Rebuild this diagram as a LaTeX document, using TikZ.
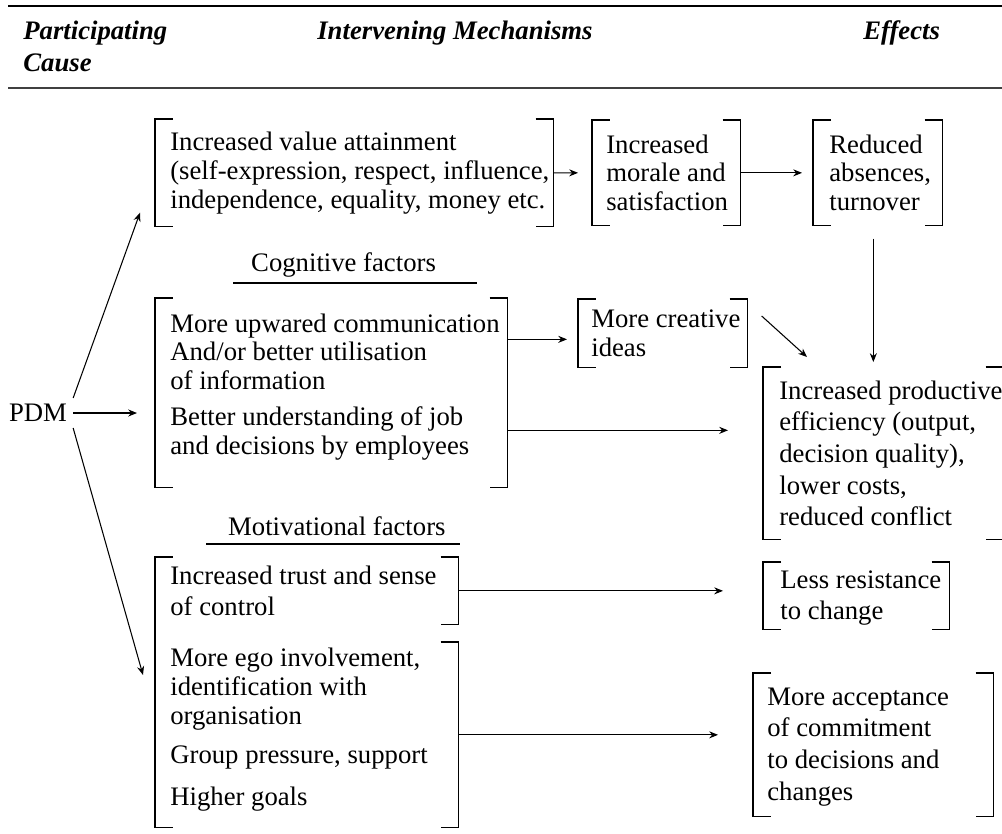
\documentclass[tikz,border=0pt]{standalone}
\usepackage{fontspec}
\setmainfont{Liberation Serif}
\usetikzlibrary{arrows.meta}
\usetikzlibrary{positioning}
\usetikzlibrary{calc}

\tikzset{
  body/.style={font=\fontsize{15.2}{16.4}\selectfont},
  head/.style={font=\fontsize{15.2}{18}\selectfont\bfseries\itshape, anchor=base west, inner sep=0pt},
  frame/.style={anchor=north west, inner sep=0pt},
  txt/.style={font=\fontsize{15.2}{#1}\selectfont, align=left, inner sep=0pt},
  txt/.default=16.4pt,
  brk/.style={line width=0.6pt},
  arr/.style={line width=0.6pt, -{Stealth[length=5pt,width=4pt]}},
}

% square brackets round a frame
\newcommand{\leftbrk}[2]{\draw[brk] ([xshift=0.36cm]#1.north west) -- (#1.north west) -- (#2.south west) -- ([xshift=0.36cm]#2.south west);}
\newcommand{\rightbrk}[1]{\draw[brk] ([xshift=-0.36cm]#1.north east) -- (#1.north east) -- (#1.south east) -- ([xshift=-0.36cm]#1.south east);}

\begin{document}
\begin{tikzpicture}[x=0.02cm, y=-0.02cm]
\useasboundingbox (0,0) rectangle (1002,833);

\draw[line width=0.7pt] (8,6) -- (1002,6);
\draw[line width=1.3pt, black!75] (8,88) -- (1002,88);

\node[head] (part) at (23,39) {Participating};
\node[head] (cause) at (23,71) {Cause};
\node[head] (mech) at (317,39) {Intervening Mechanisms};
\node[head] (eff) at (863,39) {Effects};

\node[body] (pdm) at (38,413) {PDM};

% frames of the bracketed boxes
\node[frame, minimum width=7.96cm, minimum height=2.14cm] (value) at (155,119) {};
\node[frame, minimum width=2.96cm, minimum height=2.1cm] (morale) at (592,120) {};
\node[frame, minimum width=2.58cm, minimum height=2.1cm] (reduced) at (813,120) {};
\node[frame, minimum width=7.04cm, minimum height=3.78cm] (cogn) at (155,298) {};
\node[frame, minimum width=3.38cm, minimum height=1.36cm] (ideas) at (578,299) {};
\node[frame, minimum width=4.8cm, minimum height=3.44cm] (prod) at (763,367) {};
\node[frame, minimum width=6.06cm, minimum height=1.34cm] (trust) at (155,557) {};
\node[frame, minimum width=6.06cm, minimum height=3.7cm] (ego) at (155,642) {};
\node[frame, minimum width=3.72cm, minimum height=1.34cm] (resist) at (763,562) {};
\node[frame, minimum width=4.8cm, minimum height=2.86cm] (accept) at (753,673) {};

% texts
\node[txt, right=0.3cm of value.west] (value-t)
  {Increased value attainment\\(self-expression, respect, influence,\\independence, equality, money etc.};
\node[txt, right=0.28cm of morale.west] (morale-t) {Increased\\morale and\\satisfaction};
\node[txt, right=0.32cm of reduced.west] (reduced-t) {Reduced\\absences,\\turnover};
\node[txt, right=0.3cm of cogn.west, yshift=0.12cm] (cogn-t)
  {More upwared communication\\And/or better utilisation\\of information\\[4pt]Better understanding of job\\and decisions by employees};
\node[txt, right=0.26cm of ideas.west] (ideas-t) {More creative\\ideas};
\node[txt=18pt, right=0.32cm of prod.west] (prod-t)
  {Increased productive\\efficiency (output,\\decision quality),\\lower costs,\\reduced conflict};
\node[txt=17.5pt, right=0.3cm of trust.west] (trust-t) {Increased trust and sense\\of control};
\node[txt, right=0.3cm of ego.west, yshift=0.1cm] (ego-t)
  {More ego involvement,\\identification with\\organisation\\[6.2pt]Group pressure, support\\[7.4pt]Higher goals};
\node[txt=18pt, right=0.34cm of resist.west, yshift=-0.04cm] (resist-t) {Less resistance\\to change};
\node[txt=18pt, right=0.28cm of accept.west, yshift=-0.04cm] (accept-t)
  {More acceptance\\of commitment\\to decisions and\\changes};

\node[body, anchor=west] (cogt) at (245,265) {Cognitive factors};
\draw[brk] (233,283) -- (477,283);
\node[body, anchor=west] (mott) at (222,526) {Motivational factors};
\draw[brk] (206,544) -- (460,544);

\foreach \b in {value,morale,reduced,cogn,ideas,prod,resist,accept}
  {\leftbrk{\b}{\b} \rightbrk{\b}}
\leftbrk{trust}{ego}
\rightbrk{trust}
\rightbrk{ego}

\draw[arr] (pdm.north east) -- ([shift={(-0.3cm,0.28cm)}]value.south west);
\draw[arr, shorten >=0.36cm] (pdm.east) -- (pdm.east -| cogn.west);
\draw[arr] (pdm.south east) -- ([shift={(-0.24cm,-0.66cm)}]ego.north west);

\draw[arr, shorten >=0.28cm] (value.east) -- (morale.west);
\draw[arr, shorten >=0.22cm] (morale.east) -- (reduced.west);
\draw[arr, shorten >=0.1cm] ([xshift=-0.09cm,yshift=-0.26cm]reduced.south) -- ([xshift=-0.09cm]reduced.south |- prod.north);

\draw[arr, shorten >=0.22cm] ([yshift=-0.12cm]cogn.east |- ideas.west) -- ([yshift=-0.12cm]ideas.west);
\draw[arr] ([shift={(0.28cm,-0.34cm)}]ideas.north east) -- ([shift={(0.88cm,0.2cm)}]prod.north west);
\draw[arr, shorten >=0.7cm] ([yshift=-0.75cm]cogn.east) -- ([yshift=-0.75cm]cogn.east -| prod.west);

\draw[arr, shorten >=0.8cm] (trust.east) -- (trust.east -| resist.west);
\draw[arr, shorten >=0.7cm] (ego.east) -- (ego.east -| accept.west);

\end{tikzpicture}
\end{document}
